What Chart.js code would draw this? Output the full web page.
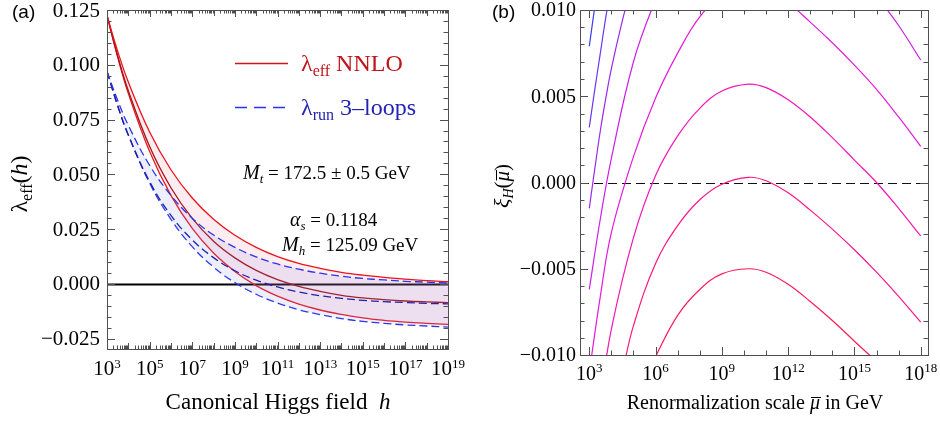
<!DOCTYPE html>
<html>
<head>
<meta charset="utf-8">
<script src="https://cdn.jsdelivr.net/npm/chart.js@4.4.1/dist/chart.umd.min.js"></script>
<style>
  body { margin: 0; background: #fff; width: 940px; height: 424px; position: relative; overflow: hidden; }
  canvas { position: absolute; top: 0; }
  #chartA { left: 0; }
  #chartB { left: 470px; }
</style>
</head>
<body>
<canvas id="chartA" width="470" height="424"></canvas>
<canvas id="chartB" width="470" height="424"></canvas>
<script>
// ---- (a) lambda_eff vs log10(h) ----
const hExp = [3, 3.5, 4, 5, 6, 7, 8, 9, 10, 11, 12, 13, 14, 15, 16, 17, 18, 19];
const effUpper   = [0.1225, 0.1062, 0.0921, 0.0693, 0.0521, 0.0392, 0.0295, 0.0222, 0.0167, 0.0125, 0.0094, 0.0071, 0.0053, 0.0040, 0.0030, 0.0022, 0.0015, 0.0010];
const effCentral = [0.1225, 0.1040, 0.0882, 0.0627, 0.0439, 0.0299, 0.0195, 0.0119, 0.0062, 0.0020, -0.0011, -0.0034, -0.0052, -0.0064, -0.0072, -0.0078, -0.0082, -0.0085];
const effLower   = [0.1225, 0.1036, 0.0870, 0.0604, 0.0404, 0.0253, 0.0141, 0.0057, -0.0008, -0.0056, -0.0092, -0.0119, -0.0139, -0.0155, -0.0166, -0.0174, -0.0180, -0.0185];
const runUpper   = [0.0970, 0.0838, 0.0724, 0.0541, 0.0404, 0.0300, 0.0223, 0.0167, 0.0123, 0.0091, 0.0067, 0.0049, 0.0035, 0.0025, 0.0018, 0.0012, 0.0008, 0.0004];
const runCentral = [0.0970, 0.0813, 0.0680, 0.0467, 0.0313, 0.0201, 0.0120, 0.0060, 0.0017, -0.0014, -0.0037, -0.0054, -0.0066, -0.0075, -0.0081, -0.0085, -0.0089, -0.0091];
const runLower   = [0.0970, 0.0814, 0.0679, 0.0460, 0.0295, 0.0170, 0.0077, 0.0006, -0.0047, -0.0087, -0.0118, -0.0140, -0.0158, -0.0171, -0.0180, -0.0187, -0.0192, -0.0197];
const aYTicks = [-0.025, 0, 0.025, 0.05, 0.075, 0.1, 0.125];
const aYLabels = ['\u22120.025', '0.000', '0.025', '0.050', '0.075', '0.100', '0.125'];
const aXLabelExp = [3, 5, 7, 9, 11, 13, 15, 17, 19];

// ---- (b) xi_H vs log10(mu), one curve per parameter value ----
const xiCurves = [
  { color: '#3b3bf2', exp: [3, 3.25, 3.5], xi: [0.0079, 0.0102, 0.0125] },
  { color: '#6a36f0', exp: [3, 3.25, 3.5, 3.75, 4], xi: [0.0032, 0.0054, 0.0075, 0.0096, 0.0115] },
  { color: '#9c28ec', exp: [3, 3.25, 3.5, 3.75, 4, 4.5, 5], xi: [-0.0015, 0.0008, 0.0030, 0.0049, 0.0066, 0.0094, 0.0118] },
  { color: '#cc1ee8', exp: [3, 3.5, 4, 5, 6, 7, 8, 9, 10.2, 11, 12, 13, 14, 15, 16, 17, 18],
    xi: [-0.0062, -0.0021, 0.0014, 0.0070, 0.0106, 0.0135, 0.0155, 0.0164, 0.0166, 0.0164, 0.0157, 0.0147, 0.0136, 0.0123, 0.0108, 0.0091, 0.0071] },
  { color: '#e619dc', exp: [3, 3.5, 4, 5, 6, 7, 8, 9, 10.2, 11, 12, 13, 14, 15, 16, 17, 18],
    xi: [-0.0110, -0.0066, -0.0029, 0.0015, 0.0049, 0.0075, 0.0096, 0.0108, 0.0112, 0.0111, 0.0104, 0.0093, 0.0081, 0.0068, 0.0054, 0.0038, 0.0021] },
  { color: '#f516b4', exp: [3.5, 4, 5, 6, 7, 8, 9, 10.2, 11, 12, 13, 14, 15, 16, 17, 18],
    xi: [-0.0125, -0.0085, -0.0032, 0.0004, 0.0027, 0.0043, 0.0053, 0.0057, 0.0055, 0.0048, 0.0038, 0.0026, 0.0013, 0.0000, -0.0015, -0.0031] },
  { color: '#ff1580', exp: [4.5, 5, 6, 7, 8, 9, 10.2, 11, 12, 13, 14, 15, 16, 17, 18],
    xi: [-0.0110, -0.0083, -0.0047, -0.0025, -0.0010, -0.0001, 0.0003, 0.0001, -0.0006, -0.0016, -0.0027, -0.0039, -0.0052, -0.0066, -0.0081] },
  { color: '#ff1a55', exp: [5.5, 6, 7, 8, 9, 10.2, 11, 12, 13, 14, 15, 16, 17],
    xi: [-0.0115, -0.0101, -0.0077, -0.0062, -0.0053, -0.0050, -0.0052, -0.0059, -0.0069, -0.0080, -0.0092, -0.0104, -0.0117] }
];
const bYTicks = [-0.01, -0.005, 0, 0.005, 0.01];
const bYLabels = ['\u22120.010', '\u22120.005', '0.000', '0.005', '0.010'];
const bXLabelExp = [3, 6, 9, 12, 15, 18];

const SERIF = '"Liberation Serif", "Times New Roman", serif';
const frameColor = '#505050';

const pts = (ex, ys) => ex.map((e, i) => ({ x: Math.pow(10, e), y: ys[i] }));

function seg(t, px, it, dy, bar) { return { t, px, it: !!it, dy: dy || 0, bar: !!bar }; }

// draws a run of text pieces (sub/superscripts, italics, overbar) on one baseline
function rich(ctx, segs, x, y, align, color) {
  ctx.save();
  ctx.fillStyle = color || '#000';
  ctx.textBaseline = 'alphabetic';
  ctx.textAlign = 'left';
  let w = 0;
  for (const s of segs) {
    ctx.font = (s.it ? 'italic ' : '') + s.px + 'px ' + SERIF;
    s.w = ctx.measureText(s.t).width;
    w += s.w;
  }
  let cx = align === 'center' ? x - w / 2 : (align === 'right' ? x - w : x);
  for (const s of segs) {
    ctx.font = (s.it ? 'italic ' : '') + s.px + 'px ' + SERIF;
    ctx.fillText(s.t, cx, y + s.dy);
    if (s.bar) {
      ctx.strokeStyle = ctx.fillStyle;
      ctx.lineWidth = 1;
      const top = Math.round(y + s.dy - s.px * 0.62) + 0.5;
      ctx.beginPath(); ctx.moveTo(cx + 1, top); ctx.lineTo(cx + s.w + 1, top); ctx.stroke();
    }
    cx += s.w;
  }
  ctx.restore();
}

function framePlugin(cfg) {
  return {
    id: 'frame' + cfg.name,
    beforeDatasetsDraw(chart) {
      const { ctx, chartArea: a, scales: { y } } = chart;
      const y0 = Math.round(y.getPixelForValue(0)) + 0.5;
      ctx.save();
      ctx.strokeStyle = cfg.zeroColor;
      ctx.lineWidth = cfg.zeroWidth;
      ctx.setLineDash(cfg.zeroDash);
      ctx.beginPath(); ctx.moveTo(a.left, y0); ctx.lineTo(a.right, y0); ctx.stroke();
      ctx.restore();
    },
    afterDraw(chart) {
      const { ctx, chartArea: a, scales: { x, y } } = chart;
      ctx.save();
      ctx.strokeStyle = frameColor;
      ctx.lineWidth = 1;
      ctx.strokeRect(Math.round(a.left) + 0.5, Math.round(a.top) + 0.5,
                     Math.round(a.right - a.left), Math.round(a.bottom - a.top));
      ctx.beginPath();
      for (const t of cfg.xTicks) {
        const px = Math.round(x.getPixelForValue(t.v)) + 0.5;
        ctx.moveTo(px, a.bottom); ctx.lineTo(px, a.bottom - t.len);
        ctx.moveTo(px, a.top); ctx.lineTo(px, a.top + t.len);
      }
      for (const t of cfg.yTicks) {
        const py = Math.round(y.getPixelForValue(t.v)) + 0.5;
        ctx.moveTo(a.left, py); ctx.lineTo(a.left + t.len, py);
        ctx.moveTo(a.right, py); ctx.lineTo(a.right - t.len, py);
      }
      ctx.stroke();

      // y tick labels
      ctx.fillStyle = '#000';
      ctx.font = cfg.tickPx + 'px ' + SERIF;
      ctx.textAlign = 'right';
      ctx.textBaseline = 'middle';
      cfg.yLabelVals.forEach((v, i) => {
        ctx.fillText(cfg.yLabels[i], a.left - cfg.yLabelGap, y.getPixelForValue(v) + 1);
      });
      // x tick labels as powers of ten
      cfg.xLabelExp.forEach(e => {
        rich(ctx, [seg('10', cfg.xTickPx), seg(String(e), Math.round(cfg.xTickPx * 0.64), false, -cfg.supRise)],
             x.getPixelForValue(Math.pow(10, e)), cfg.xLabelBase, 'center');
      });
      cfg.extra(ctx, a);
      ctx.restore();
    }
  };
}

function logTicks(lo, hi, majorEvery, withMinor, majorLen, midLen, minorLen) {
  const out = [];
  for (let d = lo; d <= hi; d++) {
    out.push({ v: Math.pow(10, d), len: ((d - lo) % majorEvery === 0) ? majorLen : midLen });
    if (withMinor && d < hi) {
      for (let m = 2; m <= 9; m++) out.push({ v: m * Math.pow(10, d), len: minorLen });
    }
  }
  return out;
}

function linTicks(lo, hi, step, major, majorLen, minorLen) {
  const out = [];
  const n = Math.round((hi - lo) / step);
  for (let i = 0; i <= n; i++) {
    const v = lo + i * step;
    const isMajor = major.some(m => Math.abs(m - v) < step / 10);
    out.push({ v, len: isMajor ? majorLen : minorLen });
  }
  return out;
}

// ---------- panel (a) ----------
const dashed = [8, 4];
const lineA = (label, ys, color, dash, fill, bg) => ({
  label, data: pts(hExp, ys), borderColor: color, borderWidth: 1.3, borderDash: dash,
  pointRadius: 0, tension: 0.4, fill: fill, backgroundColor: bg || 'transparent'
});

new Chart(document.getElementById('chartA'), {
  type: 'line',
  data: {
    datasets: [
      lineA('run upper', runUpper, '#2b34ea', dashed, 2, 'rgba(120,130,235,0.13)'),
      lineA('run central', runCentral, '#1414a0', dashed, false),
      lineA('run lower', runLower, '#2b34ea', dashed, false),
      lineA('eff upper', effUpper, '#e8141c', [], 5, 'rgba(240,110,140,0.13)'),
      lineA('eff central', effCentral, '#980a0a', [], false),
      lineA('eff lower', effLower, '#e8141c', [], false)
    ]
  },
  options: {
    responsive: false,
    animation: false,
    layout: { padding: { left: 107, right: 22, top: 10, bottom: 75 } },
    scales: {
      x: { type: 'logarithmic', min: 1e3, max: 1e19, display: false },
      y: { type: 'linear', min: -0.0297, max: 0.125, display: false }
    },
    plugins: { legend: { display: false }, tooltip: { enabled: false } }
  },
  plugins: [framePlugin({
    name: 'A',
    zeroColor: '#000', zeroWidth: 2, zeroDash: [],
    xTicks: logTicks(3, 19, 2, true, 7, 6, 3.5),
    yTicks: linTicks(-0.025, 0.125, 0.005, aYTicks, 8, 4.5),
    yLabelVals: aYTicks, yLabels: aYLabels, yLabelGap: 7, tickPx: 21,
    xLabelExp: aXLabelExp, xTickPx: 21, supRise: 7, xLabelBase: 375,
    extra(ctx, a) {
      ctx.font = '19px "Liberation Sans", Arial, sans-serif';
      ctx.textAlign = 'left'; ctx.textBaseline = 'alphabetic'; ctx.fillStyle = '#000';
      ctx.fillText('(a)', 12, 18);

      // legend
      ctx.lineWidth = 1.6;
      ctx.strokeStyle = '#d0141c';
      ctx.setLineDash([]);
      ctx.beginPath(); ctx.moveTo(235, 63.5); ctx.lineTo(288, 63.5); ctx.stroke();
      ctx.strokeStyle = '#2b34ea';
      ctx.setLineDash([12, 7]);
      ctx.beginPath(); ctx.moveTo(235, 107.5); ctx.lineTo(288, 107.5); ctx.stroke();
      ctx.setLineDash([]);
      rich(ctx, [seg('\u03bb', 24), seg('eff', 16, false, 5), seg(' NNLO', 24)], 301, 71, 'left', '#c0141c');
      rich(ctx, [seg('\u03bb', 24), seg('run', 16, false, 5), seg(' 3\u2013loops', 24)], 301, 115, 'left', '#2222b4');

      // parameter notes
      rich(ctx, [seg('M', 20, true), seg('t', 13, true, 4), seg(' = 172.5 \u00b1 0.5 GeV', 19)], 243, 179, 'left');
      rich(ctx, [seg('\u03b1', 20, true), seg('s', 13, true, 4), seg(' = 0.1184', 19)], 290, 226, 'left');
      rich(ctx, [seg('M', 20, true), seg('h', 13, true, 4), seg(' = 125.09 GeV', 19)], 282, 251, 'left');

      // axis titles
      rich(ctx, [seg('Canonical Higgs field  ', 23), seg('h', 23, true)], 278, 409, 'center');
      ctx.save();
      ctx.translate(27, 184);
      ctx.rotate(-Math.PI / 2);
      rich(ctx, [seg('\u03bb', 24), seg('eff', 16, false, 5), seg('(', 24), seg('h', 24, true), seg(')', 24)], 0, 0, 'center');
      ctx.restore();
    }
  })]
});

// ---------- panel (b) ----------
new Chart(document.getElementById('chartB'), {
  type: 'line',
  data: {
    datasets: xiCurves.map(c => ({
      data: pts(c.exp, c.xi), borderColor: c.color, borderWidth: 1.2,
      pointRadius: 0, tension: 0.4, fill: false
    }))
  },
  options: {
    responsive: false,
    animation: false,
    layout: { padding: { left: 110, right: 12, top: 10, bottom: 69 } },
    scales: {
      x: { type: 'logarithmic', min: Math.pow(10, 2.58), max: Math.pow(10, 18.33), display: false },
      y: { type: 'linear', min: -0.01, max: 0.01, display: false }
    },
    plugins: { legend: { display: false }, tooltip: { enabled: false } }
  },
  plugins: [framePlugin({
    name: 'B',
    zeroColor: '#111', zeroWidth: 1.2, zeroDash: [9, 5],
    xTicks: logTicks(3, 18, 3, false, 8, 4.5, 0),
    yTicks: linTicks(-0.01, 0.01, 0.001, bYTicks, 8, 4.5),
    yLabelVals: bYTicks, yLabels: bYLabels, yLabelGap: 4, tickPx: 20,
    xLabelExp: bXLabelExp, xTickPx: 20, supRise: 8, xLabelBase: 380,
    extra(ctx, a) {
      ctx.font = '19px "Liberation Sans", Arial, sans-serif';
      ctx.textAlign = 'left'; ctx.textBaseline = 'alphabetic'; ctx.fillStyle = '#000';
      ctx.fillText('(b)', 22, 18);

      rich(ctx, [seg('Renormalization scale ', 20), seg('\u03bc', 20, true, 0, true), seg(' in GeV', 20)], 285, 409, 'center');
      ctx.save();
      ctx.translate(39, 186);
      ctx.rotate(-Math.PI / 2);
      rich(ctx, [seg('\u03be', 22, true), seg('H', 14, true, 4), seg('(', 21), seg('\u03bc', 21, true, 0, true), seg(')', 21)], 0, 0, 'center');
      ctx.restore();
    }
  })]
});
</script>
</body>
</html>
